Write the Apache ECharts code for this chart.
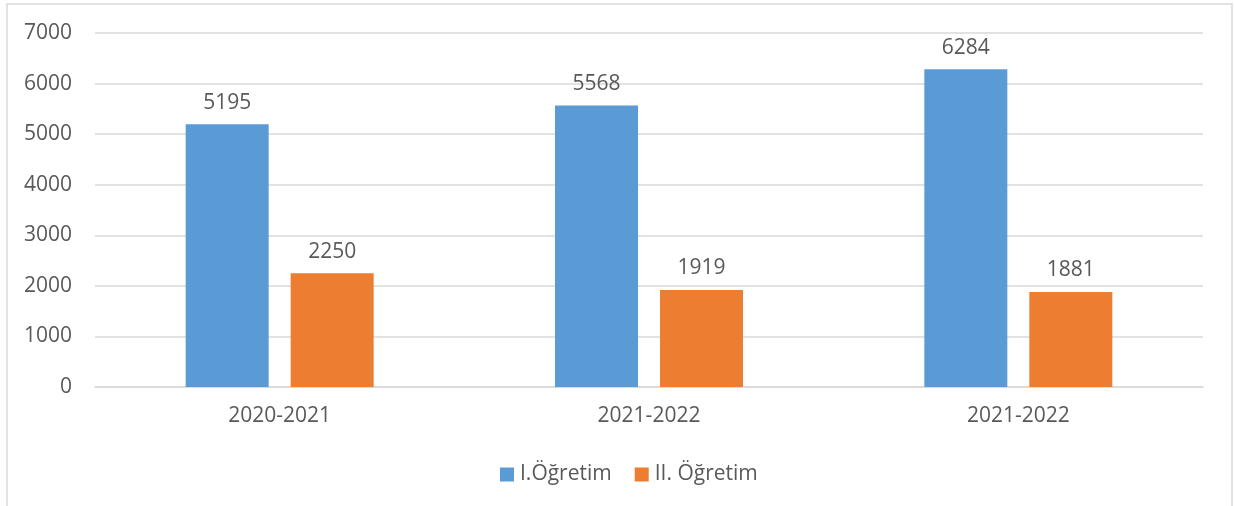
<!DOCTYPE html>
<html>
<head>
<meta charset="utf-8">
<script src="https://cdn.jsdelivr.net/npm/echarts@6/dist/echarts.min.js"></script>
<style>
  html, body { margin: 0; padding: 0; background: #fff; }
  #chart { width: 1234px; height: 506px; }
</style>
</head>
<body>
<div id="chart"></div>
<script>
const years = ['2020-2021', '2021-2022', '2021-2022']
const birinci = [5195, 5568, 6284]
const ikinci = [2250, 1919, 1881]

const textColor = '#595959'
const font = '"Open Sans", sans-serif'
const fs = 21

const chart = echarts.init(document.getElementById('chart'), null, { renderer: 'canvas' })

chart.setOption({
  animation: false,
  backgroundColor: '#fff',
  textStyle: { fontFamily: font },
  graphic: [{
    type: 'rect',
    shape: { x: 7, y: 4, width: 1225, height: 520 },
    style: { fill: 'none', stroke: '#d9d9d9', lineWidth: 1.5 },
    silent: true
  }],
  grid: {
    left: 95,
    right: 31,
    top: 33,
    bottom: 119
  },
  legend: {
    top: 459,
    left: 495,
    itemWidth: 14,
    itemHeight: 14,
    itemGap: 23,
    icon: 'rect',
    textStyle: { color: textColor, fontSize: fs, fontFamily: font, padding: [0, 0, 0, 1] },
    data: ['I.Öğretim', 'II. Öğretim']
  },
  xAxis: {
    type: 'category',
    data: years,
    axisLine: { lineStyle: { color: '#d9d9d9', width: 1.5 } },
    axisTick: { show: false },
    axisLabel: { color: textColor, fontSize: fs, margin: 19 }
  },
  yAxis: {
    type: 'value',
    min: 0,
    max: 7000,
    interval: 1000,
    axisLine: { show: false },
    axisTick: { show: false },
    axisLabel: { color: textColor, fontSize: fs, margin: 23, formatter: v => String(v) },
    splitLine: { lineStyle: { color: '#d9d9d9', width: 1.5 } }
  },
  series: [
    {
      name: 'I.Öğretim',
      type: 'bar',
      data: birinci,
      barWidth: 83,
      barGap: '26.5%',
      itemStyle: { color: '#5b9bd5' },
      label: { show: true, position: 'top', distance: 11, color: textColor, fontSize: fs }
    },
    {
      name: 'II. Öğretim',
      type: 'bar',
      data: ikinci,
      barWidth: 83,
      barGap: '26.5%',
      itemStyle: { color: '#ed7d31' },
      label: { show: true, position: 'top', distance: 11, color: textColor, fontSize: fs }
    }
  ]
})
</script>
</body>
</html>
